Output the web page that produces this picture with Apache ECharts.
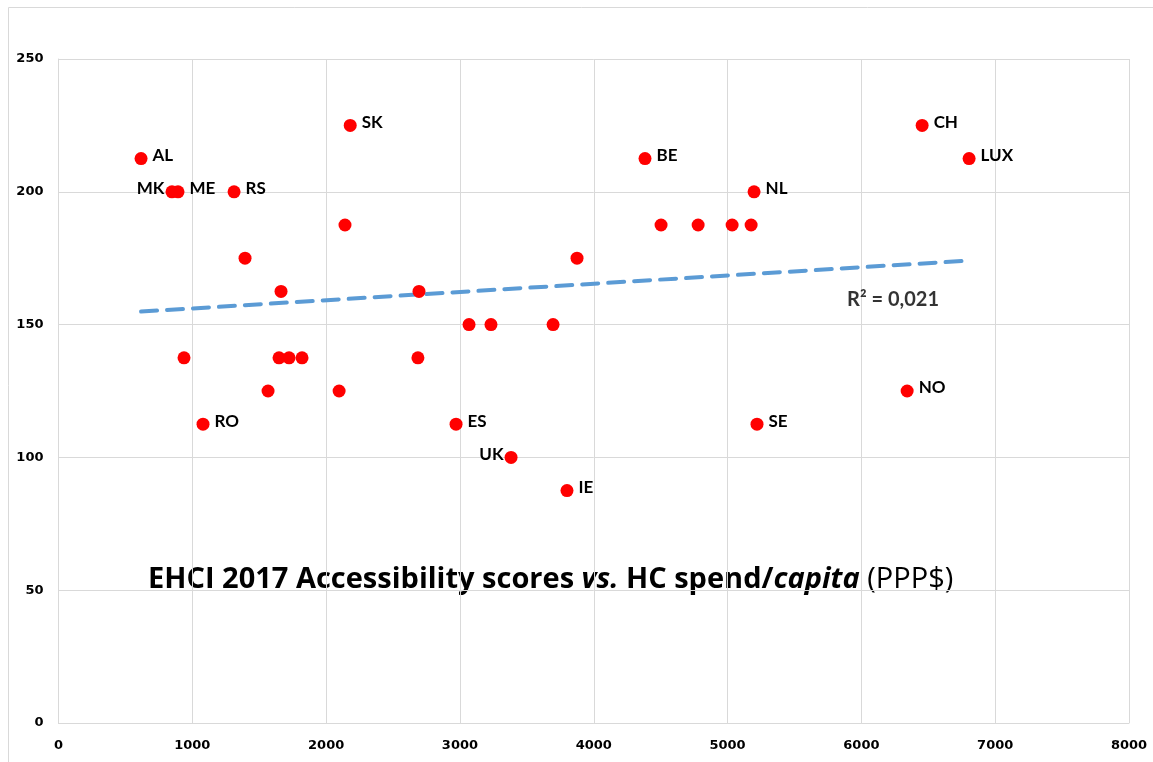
<!DOCTYPE html>
<html>
<head>
<meta charset="utf-8">
<script src="https://cdn.jsdelivr.net/npm/echarts@6/dist/echarts.min.js"></script>
<style>
html,body{margin:0;padding:0;background:#fff;}
#c{width:1153px;height:762px;}
</style>
</head>
<body>
<div id="c"></div>
<script>
var spend = [617,848,893,1312,2180,2141,1394,1663,938,1648,1723,1820,1566,1080,2694,2686,2097,3068,3232,3696,2971,3382,3800,3875,4383,4503,4780,5034,5176,5198,5220,6342,6454,6805];
var scores = [212.5,200,200,200,225,187.5,175,162.5,137.5,137.5,137.5,137.5,125,112.5,162.5,137.5,125,150,150,150,112.5,100,87.5,175,212.5,187.5,187.5,187.5,187.5,200,112.5,125,225,212.5];
var names = ['AL','MK','ME','RS','SK','','','','','','','','','RO','','','','','','','ES','UK','IE','','BE','','','','','NL','SE','NO','CH','LUX'];
var labelSide = {'MK':'left','UK':'left'};
var trendX = [617, 6805];
var trendY = [154.9, 174.1];
var rSquared = 'R² = 0,021';
var xTicks = [0,1000,2000,3000,4000,5000,6000,7000,8000];
var yTicks = [0,50,100,150,200,250];

var pts = spend.map(function(x,i){
  var n = names[i];
  var side = labelSide[n] || 'right';
  return {
    value:[x, scores[i]],
    name:n,
    label:{show: n!=='', formatter:n, position: side, distance: side==='left' ? 1 : 5, offset:[0,-3]}
  };
});

var chart = echarts.init(document.getElementById('c'));
var ff = 'Lato, "Open Sans", sans-serif';
var af = '"DejaVu Sans", Verdana, sans-serif';
var tf = '"Open Sans", Lato, sans-serif';
chart.setOption({
  animation:false,
  grid:{left:58.5, right:24, top:59, bottom:39, containLabel:false},
  xAxis:{type:'value', min:0, max:8000, interval:1000,
    axisLine:{show:true, lineStyle:{color:'#d9d9d9', width:1}},
    axisTick:{show:false},
    splitLine:{show:true, lineStyle:{color:'#d9d9d9', width:1}},
    axisLabel:{color:'#000', fontWeight:'bold', fontSize:13, fontFamily:af, margin:16,
      formatter:function(v){return xTicks.indexOf(v)>=0? String(v):'';}}
  },
  yAxis:{type:'value', min:0, max:250, interval:50,
    axisLine:{show:true, lineStyle:{color:'#d9d9d9', width:1}},
    axisTick:{show:false},
    splitLine:{show:true, lineStyle:{color:'#d9d9d9', width:1}},
    axisLabel:{color:'#000', fontWeight:'bold', fontSize:13, fontFamily:af, margin:15,
      formatter:function(v){return yTicks.indexOf(v)>=0? String(v):'';}}
  },
  graphic:[
    {type:'rect', shape:{x:8.5,y:7.5,width:1150,height:760}, style:{fill:'none', stroke:'#d9d9d9', lineWidth:1}, silent:true, z:-1},
    {type:'text', left:148, top:565, style:{
      text:'{b|EHCI 2017 Accessibility scores }{i|vs.}{b| HC spend/}{i|capita}{n| (PPP$)}',
      rich:{
        b:{fontFamily:tf, fontSize:29, fontWeight:'bold', fill:'#000'},
        i:{fontFamily:tf, fontSize:29, fontWeight:'bold', fontStyle:'italic', fill:'#000'},
        n:{fontFamily:tf, fontSize:29, fontWeight:'normal', fill:'#000'}
      }
    }}
  ],
  series:[
    {type:'line', data:trendX.map(function(x,i){return [x,trendY[i]];}), symbol:'none',
      lineStyle:{color:'#5b9bd5', width:4, type:[16,10], cap:'round'}, z:2, silent:true},
    {type:'scatter', data:pts, symbol:'circle', symbolSize:13,
      itemStyle:{color:'#ff0000', opacity:1},
      label:{color:'#000', fontWeight:'bold', fontSize:17, fontFamily:ff},
      z:3},
    {type:'scatter', data:[{value:[6237,159.4]}], symbolSize:0,
      label:{show:true, position:'inside', formatter:rSquared, color:'#000', fontWeight:'bold', fontSize:20, fontFamily:ff}, z:4}
  ]
});
</script>
</body>
</html>
